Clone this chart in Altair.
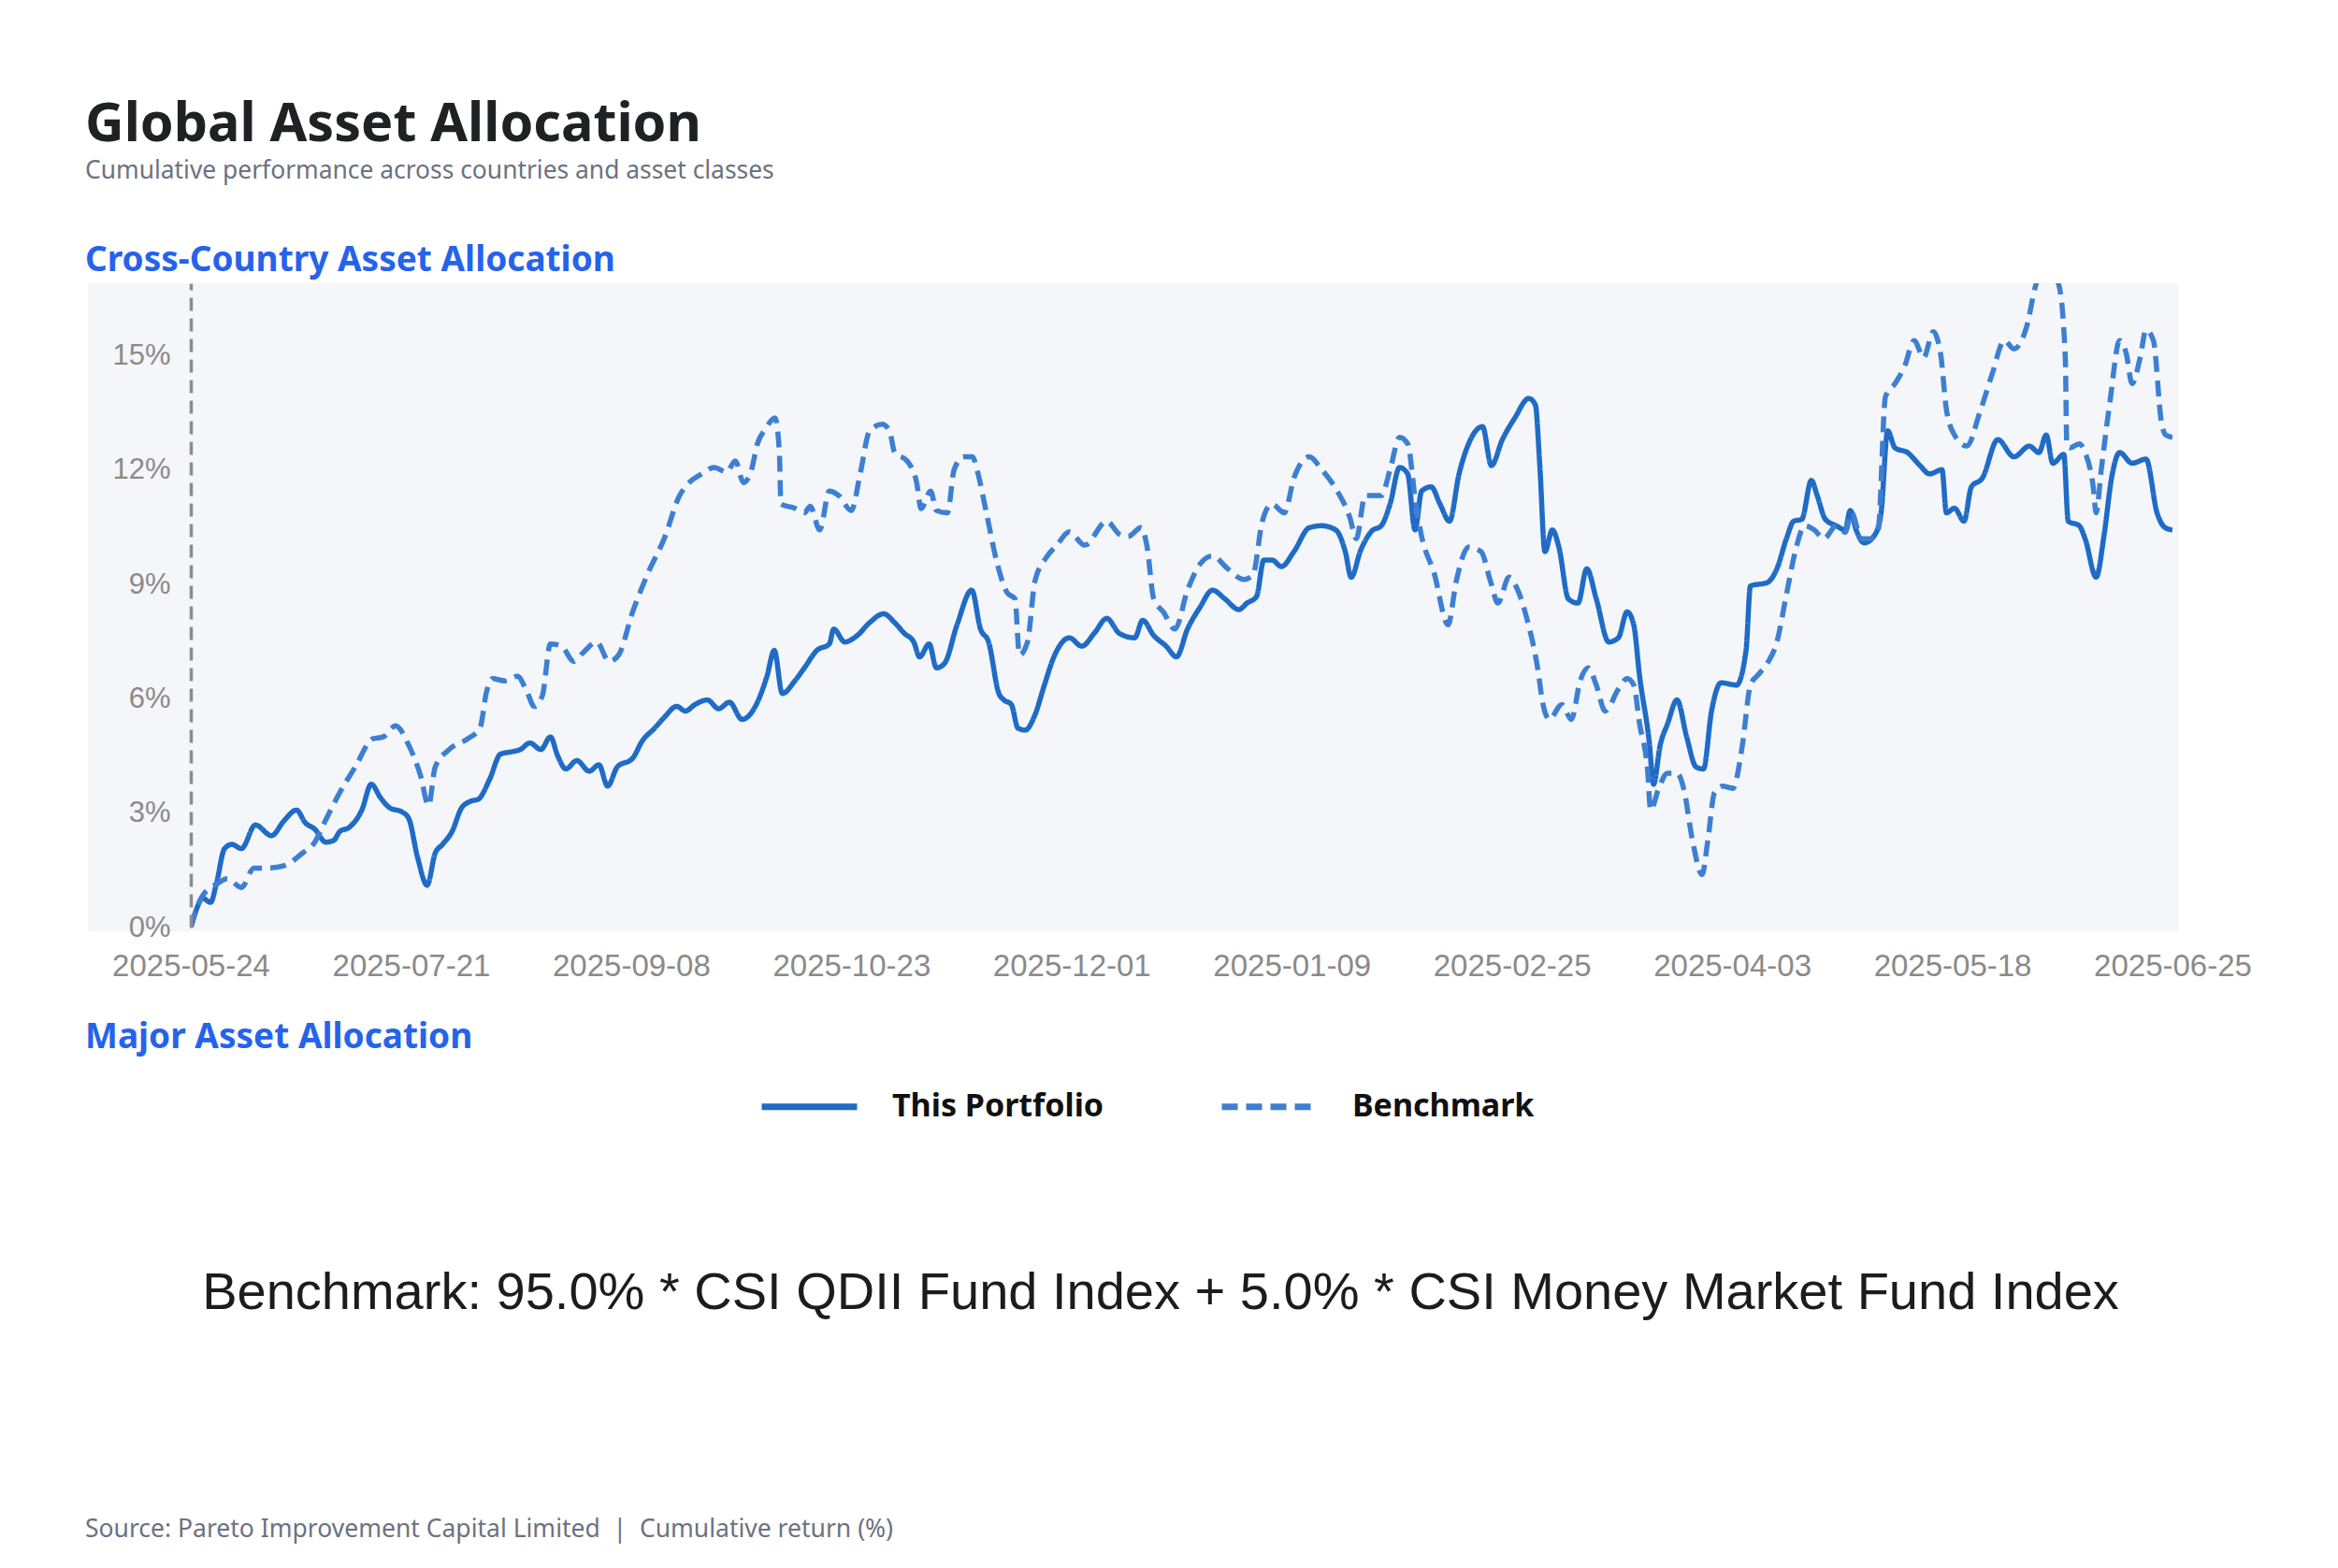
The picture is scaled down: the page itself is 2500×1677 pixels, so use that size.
import altair as alt
import pandas as pd

# ---- data -------------------------------------------------------------
# x: position along the time axis in trading-day steps (0 .. 270),
# y: cumulative return in percent
portfolio_x = [0, 0.8, 1.6, 2.7, 3.5, 4.6, 5.6, 6.9, 8.8, 11.0, 12.7, 14.4, 15.6, 16.9, 18.4, 19.5,
               20.3, 21.6, 23.3, 24.6, 25.8, 27.1, 28.8, 29.7, 30.9, 32.2, 33.3, 34.3, 35.6, 36.9,
               38.1, 39.2, 40.7, 42.2, 43.7, 44.9, 46.2, 47.7, 49.0, 50.0, 51.1, 52.6, 54.3, 55.6,
               56.8, 58.1, 60.2, 61.5, 63.2, 64.5, 66.2, 67.4, 68.7, 70.4, 71.9, 73.4, 75.1, 77.2,
               78.5, 79.5, 80.6, 82.3, 83.6, 85.3, 87.0, 87.6, 89.1, 90.8, 92.5, 94.4, 95.9, 97.2,
               98.5, 99.3, 100.6, 101.6, 102.7, 104.4, 106.4, 107.6, 108.7, 110.1, 110.8, 111.8,
               112.7, 113.7, 115.0, 116.3, 117.6, 119.7, 121.4, 123.1, 124.8, 126.5, 128.6, 129.7,
               131.2, 132.9, 134.3, 135.8, 137.5, 139.2, 140.9, 142.8, 143.9, 145.2, 146.2, 147.3,
               148.6, 150.3, 152.4, 154.1, 156.0, 157.3, 158.1, 159.4, 160.9, 162.2, 163.4, 164.7,
               165.8, 166.8, 167.7, 169.0, 170.2, 171.5, 172.8, 174.1, 176.0, 177.2, 178.7, 180.4,
               182.3, 183.2, 183.8, 184.5, 185.5, 186.4, 187.7, 189.0, 190.2, 191.5, 193.2, 194.5,
               195.7, 196.6, 197.4, 198.7, 199.3, 200.2, 201.2, 202.5, 203.8, 205.1, 206.1, 207.2,
               208.5, 210.6, 211.9, 212.5, 214.8, 216.1, 217.4, 218.4, 219.5, 220.8, 221.6, 222.7,
               224.2, 225.4, 226.1, 226.9, 228.0, 229.5, 230.3, 231.2, 232.2, 233.9, 235.6, 236.9,
               238.6, 239.2, 240.3, 241.6, 242.6, 244.1, 246.2, 248.4, 250.5, 251.8, 252.8, 253.7,
               255.2, 255.8, 257.3, 258.1, 259.6, 260.7, 261.7, 262.8, 264.5, 266.4, 267.9, 269.0,
               270.0]
portfolio_y = [0.0, 0.49, 0.77, 0.66, 1.16, 2.07, 2.18, 2.07, 2.69, 2.41, 2.80, 3.08, 2.75, 2.58,
               2.24, 2.29, 2.52, 2.63, 3.08, 3.76, 3.42, 3.14, 3.03, 2.86, 1.84, 1.11, 1.95, 2.18,
               2.52, 3.14, 3.31, 3.37, 3.88, 4.55, 4.61, 4.67, 4.84, 4.67, 5.00, 4.50, 4.16, 4.38,
               4.10, 4.27, 3.71, 4.21, 4.44, 4.89, 5.23, 5.51, 5.80, 5.68, 5.85, 5.97, 5.74, 5.91,
               5.46, 5.91, 6.59, 7.27, 6.14, 6.47, 6.81, 7.27, 7.44, 7.83, 7.49, 7.66, 8.00, 8.23,
               8.00, 7.72, 7.49, 7.10, 7.44, 6.81, 6.93, 7.94, 8.85, 7.83, 7.49, 6.14, 5.97, 5.85,
               5.23, 5.18, 5.57, 6.36, 7.10, 7.60, 7.38, 7.72, 8.11, 7.72, 7.60, 8.06, 7.66, 7.38,
               7.10, 7.83, 8.40, 8.85, 8.62, 8.34, 8.51, 8.68, 9.64, 9.64, 9.47, 9.86, 10.49, 10.54,
               10.43, 9.86, 9.19, 9.90, 10.40, 10.54, 11.11, 12.07, 11.90, 10.43, 11.45, 11.56,
               11.11, 10.66, 11.90, 12.69, 13.14, 12.12, 12.80, 13.37, 13.88, 13.71, 12.12, 9.86,
               10.43, 9.98, 8.62, 8.51, 9.41, 8.62, 7.49, 7.60, 8.28, 7.94, 6.59, 4.89, 3.76, 4.78,
               5.34, 5.97, 5.01, 4.21, 4.16, 5.68, 6.42, 6.36, 7.27, 8.96, 9.05, 9.41, 10.20, 10.66,
               10.71, 11.73, 11.33, 10.71, 10.54, 10.43, 10.94, 10.43, 10.09, 10.32, 10.88, 13.03,
               12.58, 12.46, 12.12, 11.90, 12.01, 10.88, 11.00, 10.66, 11.56, 11.79, 12.80, 12.35,
               12.63, 12.46, 12.92, 12.18, 12.41, 10.66, 10.54, 10.20, 9.19, 10.32, 11.79, 12.46,
               12.18, 12.29, 10.88, 10.49, 10.43]

benchmark_x = [0, 1.5, 3.7, 5.0, 6.9, 8.6, 10.5, 12.7, 15.2, 16.9, 18.2, 20.3, 22.4, 24.8, 26.2,
               27.9, 29.7, 31.3, 32.4, 33.3, 35.2, 37.7, 39.4, 40.3, 41.1, 42.8, 44.5, 45.8, 46.8,
               47.9, 49.0, 50.5, 52.2, 53.4, 55.3, 57.0, 58.3, 60.2, 62.3, 64.5, 66.6, 67.9, 69.6,
               71.3, 73.0, 74.2, 75.3, 76.4, 77.2, 78.3, 79.6, 80.2, 80.4, 82.3, 83.6, 84.4, 85.7,
               87.0, 88.3, 90.0, 91.2, 92.5, 94.2, 95.2, 95.9, 97.6, 98.9, 99.5, 100.8, 101.6,
               103.1, 104.0, 105.3, 106.5, 107.2, 108.4, 109.9, 111.2, 112.3, 112.9, 114.0, 115.0,
               116.5, 118.0, 119.7, 121.8, 124.8, 126.5, 127.7, 129.5, 130.3, 131.2, 132.5, 134.1,
               135.8, 137.5, 139.2, 141.3, 143.5, 144.7, 146.0, 147.3, 149.0, 150.3, 152.4, 154.1,
               156.2, 157.9, 158.8, 160.0, 162.2, 163.4, 164.7, 165.8, 166.9, 167.7, 169.4, 171.3,
               172.4, 174.1, 175.8, 177.1, 178.1, 179.6, 180.8, 182.1, 183.4, 184.3, 185.1, 186.8,
               188.1, 189.3, 190.4, 191.5, 192.7, 194.5, 195.7, 196.6, 197.4, 198.5, 198.9, 200.0,
               201.2, 202.5, 203.4, 204.6, 205.9, 206.7, 207.6, 208.7, 210.1, 211.4, 212.5, 213.6,
               214.8, 216.1, 217.4, 218.6, 219.9, 221.2, 222.5, 224.2, 225.4, 226.3, 227.6, 228.8,
               229.9, 230.9, 232.2, 233.5, 234.8, 236.1, 237.4, 238.4, 239.2, 240.3, 242.0, 243.7,
               245.4, 247.1, 248.4, 250.1, 251.4, 252.8, 254.5, 255.4, 255.6, 256.0, 257.3, 258.1,
               259.2, 259.6, 260.3, 261.5, 262.8, 263.7, 264.5, 265.6, 266.4, 267.4, 268.5, 269.1,
               270.0]
benchmark_y = [0.0, 0.80, 1.16, 1.28, 1.05, 1.56, 1.56, 1.62, 1.95, 2.24, 2.75, 3.54, 4.21, 4.95,
               5.00, 5.29, 4.78, 3.99, 3.20, 4.21, 4.67, 4.95, 5.23, 6.19, 6.53, 6.47, 6.59, 6.19,
               5.80, 6.08, 7.44, 7.38, 6.98, 7.20, 7.49, 6.98, 7.15, 8.28, 9.30, 10.20, 11.33,
               11.67, 11.90, 12.07, 11.95, 12.24, 11.67, 12.01, 12.69, 13.08, 13.37, 12.46, 11.11,
               11.00, 10.88, 11.05, 10.43, 11.45, 11.33, 10.94, 11.90, 13.03, 13.20, 13.03, 12.46,
               12.24, 11.67, 10.99, 11.45, 10.94, 10.88, 12.01, 12.35, 12.35, 11.95, 10.88, 9.53,
               8.79, 8.62, 7.15, 7.49, 9.07, 9.69, 10.03, 10.38, 10.03, 10.66, 10.32, 10.26, 10.49,
               9.98, 8.62, 8.28, 7.83, 8.85, 9.53, 9.75, 9.41, 9.13, 9.24, 10.66, 11.11, 10.88,
               11.79, 12.35, 12.01, 11.45, 10.77, 10.20, 11.33, 11.33, 12.01, 12.86, 12.69, 11.11,
               10.26, 9.30, 7.94, 9.07, 9.98, 9.86, 9.07, 8.51, 9.19, 8.85, 8.06, 6.93, 5.80, 5.46,
               5.85, 5.46, 6.47, 6.81, 6.36, 5.68, 6.25, 6.53, 6.36, 5.34, 4.10, 3.08, 3.65, 4.05,
               4.05, 3.65, 2.29, 1.39, 2.29, 3.54, 3.71, 3.65, 4.78, 6.36, 6.64, 6.93, 7.49, 8.73,
               9.86, 10.54, 10.43, 10.20, 10.54, 10.37, 10.88, 10.20, 10.20, 10.43, 13.93, 14.27,
               14.72, 15.40, 14.95, 15.63, 15.06, 13.59, 12.92, 12.63, 13.48, 14.50, 15.40, 15.18,
               15.74, 16.87, 17.40, 16.87, 14.95, 12.69, 12.58, 12.69, 12.46, 11.56, 10.88, 12.01,
               13.82, 15.40, 15.06, 14.27, 14.95, 15.68, 15.40, 13.25, 12.92, 12.86]

series_names = ["This Portfolio", "Benchmark"]
series_colors = ["#1f6bc6", "#3d7fd2"]

x_tick_values = [0, 30, 60, 90, 120, 150, 180, 210, 240, 270]
x_tick_labels = ["2025-05-24", "2025-07-21", "2025-09-08", "2025-10-23", "2025-12-01",
                 "2025-01-09", "2025-02-25", "2025-04-03", "2025-05-18", "2025-06-25"]
y_tick_values = [0, 3, 6, 9, 12, 15]

title_text = "Global Asset Allocation"
subtitle_text = "Cumulative performance across countries and asset classes"
section_titles = ["Cross-Country Asset Allocation", "Major Asset Allocation"]
benchmark_note = "Benchmark: 95.0% * CSI QDII Fund Index + 5.0% * CSI Money Market Fund Index"
footer_text = "Source: Pareto Improvement Capital Limited \u00a0|\u00a0 Cumulative return (%)"

# ---- layout -----------------------------------------------------------
W, H = 2119, 689           # plot area
PAD = {"left": 204, "top": 303, "right": 177, "bottom": 685}
UI_FONT = "Noto Sans"
CHART_FONT = "Liberation Sans"

rows = []
for name, xs, ys in [(series_names[0], portfolio_x, portfolio_y),
                     (series_names[1], benchmark_x, benchmark_y)]:
    for xv, yv in zip(xs, ys):
        rows.append({"series": name, "step": xv, "ret": yv})
df = pd.DataFrame(rows)

labels_js = "[" + ",".join(f"'{s}'" for s in x_tick_labels) + "]"

x_axis = alt.Axis(values=x_tick_values, labelExpr=f"{labels_js}[round(datum.value / 30)]",
                  title=None, grid=False, ticks=False, domain=False, labelFont=CHART_FONT,
                  labelFontSize=33, labelColor="#8a8a8a", labelPadding=25, labelFlush=False,
                  labelOverlap=False, zindex=1)
y_axis = alt.Axis(values=y_tick_values, labelExpr="datum.value + '%'", title=None, grid=False,
                  ticks=False, domain=True, domainDash=[14, 8], domainColor="#8c8c8c",
                  domainWidth=3.5, labelFont=CHART_FONT, labelFontSize=31, labelColor="#8a8a8a",
                  labelPadding=22, zindex=1)

one = pd.DataFrame({"k": [0]})

panel_bg = alt.Chart(one).mark_rect(color="#f4f6f9").encode(
    x=alt.value(-110), x2=alt.value(W + 6), y=alt.value(0), y2=alt.value(H + 4))

lines = alt.Chart(df).mark_line(strokeWidth=5.5, interpolate="monotone", clip=True).encode(
    x=alt.X("step:Q", scale=alt.Scale(domain=[0, 270], nice=False, zero=False), axis=x_axis),
    y=alt.Y("ret:Q", scale=alt.Scale(domain=[0, 16.9], nice=False), axis=y_axis),
    color=alt.Color("series:N", scale=alt.Scale(domain=series_names, range=series_colors)),
    strokeDash=alt.StrokeDash("series:N",
                              scale=alt.Scale(domain=series_names, range=[[1, 0], [17, 9]])),
)


def text_layer(txt, x, y, size, color, weight="normal", font=UI_FONT, align="left"):
    return alt.Chart(one).mark_text(
        text=txt, align=align, baseline="alphabetic", font=font, fontSize=size,
        fontWeight=weight, color=color).encode(x=alt.value(x), y=alt.value(y))


texts = [
    text_layer(title_text, -113, -152, 57.5, "#202124", "bold"),
    text_layer(subtitle_text, -113, -112, 26.4, "#6b7280"),
    text_layer(section_titles[0], -113, -13, 37, "#2563eb", "bold"),
    text_layer(section_titles[1], -113, 818, 37, "#2563eb", "bold"),
    text_layer(benchmark_note, 1037, 1097, 56, "#1c1c1c", font=CHART_FONT, align="center"),
    text_layer(footer_text, -113, 1341, 26.5, "#6b7280"),
]

chart = alt.layer(panel_bg, lines, *texts).properties(
    width=W, height=H, padding=PAD, autosize=alt.AutoSizeParams(type="none"),
    background="white",
).configure_view(stroke=None).configure_legend(
    orient="none", legendX=607, legendY=826, direction="horizontal", title=None,
    symbolType="stroke", symbolSize=10404, symbolStrokeWidth=7, labelFont=UI_FONT,
    labelFontSize=34, labelFontWeight="bold", labelColor="#111111", labelOffset=34,
    columnPadding=111, padding=0, labelLimit=0,
)

chart.save("out.html", embed_options={"renderer": "svg", "actions": False})
